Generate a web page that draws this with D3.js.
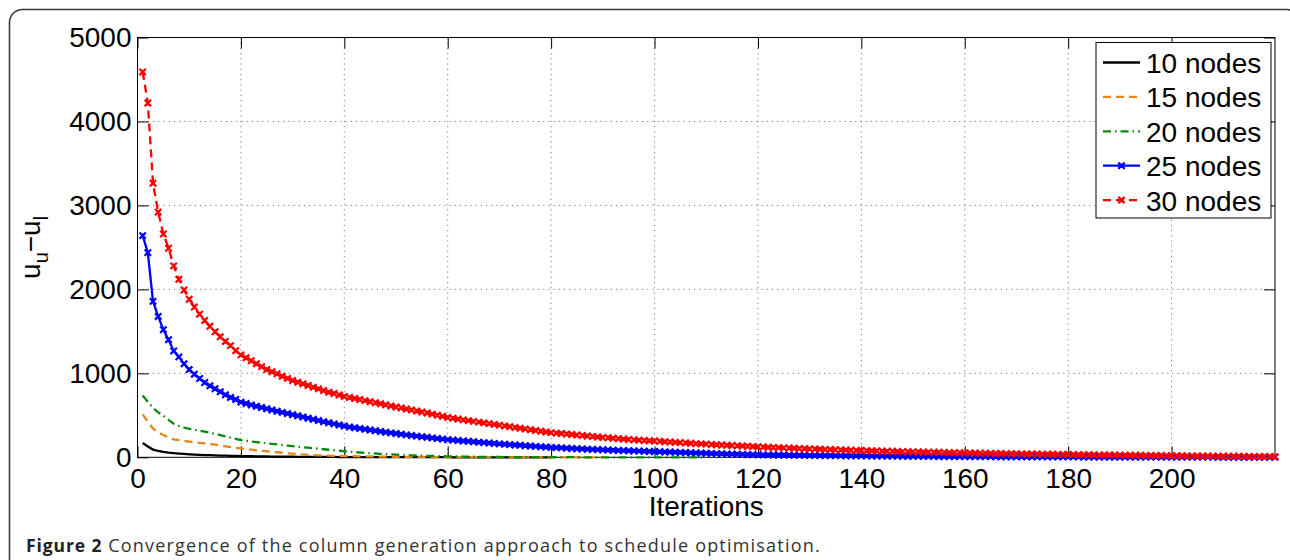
<!DOCTYPE html>
<html>
<head>
<meta charset="utf-8">
<script src="https://cdn.jsdelivr.net/npm/d3@7"></script>
<style>
  body { margin: 0; background: #fff; }
  svg { display: block; }
  .axis text { font-family: 'Liberation Sans', Arial, sans-serif; font-size: 28px; fill: #000; }
  .axis line { stroke: #000; stroke-width: 1; }
  .grid line { stroke: #7a7a7a; stroke-width: 1; stroke-dasharray: 1.2, 4; }
  .lbl { font-family: 'Liberation Sans', Arial, sans-serif; font-size: 28px; fill: #000; }
  .caption { font-family: 'Open Sans', 'Noto Sans', sans-serif; font-size: 18px; fill: #333; letter-spacing: 1.2px; }
  .caption .fig { font-size: 17.5px; font-weight: bold; fill: #222; letter-spacing: 0.9px; }
</style>
</head>
<body>
<svg id="chart" width="1290" height="560"></svg>
<script>
// values, one entry per iteration (iteration 1 first)
const legendLabels = ['10 nodes', '15 nodes', '20 nodes', '25 nodes', '30 nodes']
const xTicks = [0, 20, 40, 60, 80, 100, 120, 140, 160, 180, 200]
const yTicks = [0, 1000, 2000, 3000, 4000, 5000]

const nodes10 = [170, 128, 92, 76, 64, 56, 50, 45, 40, 36,
  32, 29, 27, 25, 23, 21, 19, 18, 16, 15,
  14, 13, 12, 11, 10, 9, 9, 8, 7, 7,
  6, 6, 5, 5, 5, 4, 4, 4, 3, 3,
  3, 3, 3, 2, 2, 2, 2, 2, 2, 1,
  1, 1, 1, 1, 1, 1, 1, 1, 1, 1,
  0, 0, 0, 0, 0, 0, 0, 0, 0, 0,
  0, 0, 0, 0, 0, 0, 0, 0, 0, 0]

const nodes15 = [512, 420, 345, 295, 266, 235, 214, 205, 195, 186,
  180, 172, 165, 157, 150, 140, 130, 121, 113, 106,
  98, 91, 84, 78, 72, 66, 60, 54, 48, 43,
  38, 34, 30, 27, 24, 22, 20, 18, 16, 15,
  14, 13, 12, 11, 10, 9, 8, 7, 7, 6,
  6, 5, 5, 4, 4, 4, 3, 3, 3, 2,
  2, 2, 2, 1, 1, 1, 1, 1, 1, 1,
  0, 0, 0, 0, 0, 0, 0, 0, 0, 0,
  0, 0, 0, 0, 0, 0, 0, 0, 0, 0]

const nodes20 = [735, 660, 590, 535, 495, 445, 400, 375, 355, 340,
  328, 317, 305, 292, 280, 265, 250, 235, 220, 205,
  197, 189, 181, 174, 167, 160, 153, 146, 139, 132,
  126, 120, 114, 108, 102, 96, 90, 84, 78, 72,
  67, 62, 57, 53, 49, 45, 41, 38, 35, 32,
  29, 26, 24, 22, 20, 18, 16, 14, 13, 12,
  11, 10, 9, 8, 7, 6, 5, 5, 4, 4,
  3, 3, 3, 2, 2, 2, 2, 1, 1, 1,
  1, 1, 1, 1, 1, 0, 0, 0, 0, 0,
  0, 0, 0, 0, 0, 0, 0, 0, 0, 0,
  0, 0, 0, 0, 0, 0, 0, 0, 0, 0]

const nodes25 = [2640, 2438, 1857, 1678, 1520, 1401, 1267, 1196, 1113, 1045,
  990, 938, 891, 851, 816, 780, 744, 713, 689, 657,
  640, 624, 608, 593, 578, 563, 549, 535, 521, 508,
  494, 480, 466, 452, 438, 424, 411, 398, 385, 372,
  361, 352, 343, 334, 325, 316, 307, 299, 291, 283,
  275, 267, 259, 252, 245, 238, 231, 224, 217, 210,
  205, 200, 195, 190, 185, 180, 175, 170, 165, 160,
  156, 151, 147, 143, 138, 134, 130, 126, 122, 118,
  115, 112, 109, 106, 103, 100, 97, 94, 92, 89,
  87, 84, 82, 80, 78, 76, 74, 72, 70, 68,
  66, 64, 62, 60, 58, 56, 54, 52, 50, 48,
  46, 44, 42, 40, 38, 37, 35, 33, 32, 30,
  29, 29, 28, 27, 27, 26, 25, 25, 24, 23,
  23, 22, 21, 21, 20, 20, 19, 18, 18, 17,
  17, 16, 16, 15, 15, 14, 14, 13, 13, 12,
  12, 12, 11, 11, 10, 10, 10, 9, 9, 9,
  9, 8, 8, 8, 8, 7, 7, 7, 7, 7,
  6, 6, 6, 6, 6, 6, 5, 5, 5, 5,
  5, 5, 4, 4, 4, 4, 4, 4, 3, 3,
  3, 3, 3, 3, 3, 3, 2, 2, 2, 2,
  2, 2, 2, 2, 2, 2, 2, 2, 1, 1,
  1, 1, 1, 1, 1, 1, 1, 1, 1, 1]

const nodes30 = [4590, 4220, 3265, 2920, 2660, 2490, 2280, 2120, 1993, 1882,
  1790, 1705, 1630, 1560, 1495, 1435, 1380, 1330, 1270, 1220,
  1185, 1150, 1115, 1080, 1045, 1020, 995, 965, 940, 915,
  895, 875, 855, 835, 815, 795, 775, 760, 742, 725,
  712, 700, 688, 675, 662, 650, 638, 625, 612, 600,
  588, 575, 563, 552, 540, 527, 514, 501, 488, 475,
  465, 455, 446, 437, 428, 419, 410, 401, 392, 383,
  374, 365, 356, 347, 338, 329, 320, 311, 302, 294,
  288, 283, 277, 271, 266, 260, 254, 248, 242, 237,
  232, 227, 222, 217, 212, 208, 204, 200, 197, 194,
  190, 186, 182, 178, 175, 171, 167, 163, 160, 157,
  153, 150, 147, 143, 140, 137, 134, 131, 128, 125,
  122, 120, 117, 115, 112, 110, 107, 105, 102, 100,
  98, 96, 94, 92, 90, 88, 86, 84, 82, 80,
  78, 77, 75, 74, 72, 71, 69, 68, 66, 65,
  64, 62, 61, 60, 59, 57, 56, 55, 54, 52,
  51, 50, 49, 48, 47, 46, 45, 44, 43, 42,
  41, 40, 39, 39, 38, 37, 36, 35, 35, 34,
  33, 32, 32, 31, 30, 29, 29, 28, 27, 26,
  26, 25, 24, 24, 23, 22, 21, 21, 20, 19,
  18, 18, 17, 17, 16, 15, 15, 14, 14, 13,
  13, 12, 12, 11, 11, 10, 10, 9, 9, 8]

const styles = [
  { color: '#000000', dash: null, marker: false },
  { color: '#e8861a', dash: '8,5', marker: false },
  { color: '#0a8a0a', dash: '8,4,1.5,4', marker: false },
  { color: '#0000ff', dash: null, marker: true },
  { color: '#ff0000', dash: '8,5', marker: true }
]

const margin = { top: 37.5, right: 15, bottom: 102.7, left: 137.5 }
const width = 1290 - margin.left - margin.right
const height = 560 - margin.top - margin.bottom

const svg = d3.select('#chart')

// outer figure frame (runs off the bottom of the picture)
svg.append('rect')
  .attr('x', 9.5).attr('y', 9.5)
  .attr('width', 1290).attr('height', 700)
  .attr('rx', 13)
  .attr('fill', 'none')
  .attr('stroke', '#3a3a3a')
  .attr('stroke-width', 1.6)

const x = d3.scaleLinear().domain([0, 220]).range([0, width])
const y = d3.scaleLinear().domain([0, 5000]).range([height, 0])

const g = svg.append('g').attr('transform', `translate(${margin.left},${margin.top})`)

// dotted grid
g.append('g').attr('class', 'grid')
  .selectAll('line').data(xTicks.filter(t => t > 0)).join('line')
  .attr('x1', d => x(d)).attr('x2', d => x(d))
  .attr('y1', 0).attr('y2', height)
g.append('g').attr('class', 'grid')
  .selectAll('line').data(yTicks.filter(t => t > 0 && t < 5000)).join('line')
  .attr('y1', d => y(d)).attr('y2', d => y(d))
  .attr('x1', 0).attr('x2', width)

// axes with inward ticks on all four sides
function drawAxis (axis, transform, labels) {
  const a = g.append('g').attr('class', 'axis').attr('transform', transform)
    .call(axis)
  a.select('.domain').remove()
  if (!labels) a.selectAll('text').remove()
  return a
}
const fmt = d3.format('d')
drawAxis(d3.axisBottom(x).tickValues(xTicks).tickFormat(fmt).tickSize(-11).tickPadding(11), `translate(0,${height})`, true)
drawAxis(d3.axisTop(x).tickValues(xTicks).tickSize(-11), 'translate(0,0)', false)
drawAxis(d3.axisLeft(y).tickValues(yTicks).tickFormat(fmt).tickSize(-11).tickPadding(6), 'translate(0,0)', true)
drawAxis(d3.axisRight(y).tickValues(yTicks).tickSize(-11), `translate(${width},0)`, false)

g.append('rect')
  .attr('width', width).attr('height', height)
  .attr('fill', 'none').attr('stroke', '#000').attr('stroke-width', 1)

// series
const allSeries = [nodes10, nodes15, nodes20, nodes25, nodes30]
const line = d3.line()
  .x((d, i) => x(i + 1))
  .y(d => y(d))
const cross = 'M-3.2,-3.2L3.2,3.2M-3.2,3.2L3.2,-3.2M0,-2.2L0,2.2'

allSeries.forEach((values, k) => {
  const s = styles[k]
  g.append('path')
    .datum(values)
    .attr('d', line)
    .attr('fill', 'none')
    .attr('stroke', s.color)
    .attr('stroke-width', 2.3)
    .attr('stroke-dasharray', s.dash)
  if (s.marker) {
    g.append('g').selectAll('path').data(values).join('path')
      .attr('transform', (d, i) => `translate(${x(i + 1)},${y(d)})`)
      .attr('d', cross)
      .attr('stroke', s.color)
      .attr('stroke-width', 2.2)
      .attr('fill', 'none')
  }
})

// axis titles
g.append('text').attr('class', 'lbl')
  .attr('x', width / 2).attr('y', height + 58.5)
  .attr('text-anchor', 'middle')
  .text('Iterations')

const yl = svg.append('text').attr('class', 'lbl')
  .attr('transform', `translate(40,${margin.top + height / 2}) rotate(-90)`)
  .attr('text-anchor', 'middle')
yl.append('tspan').text('u')
yl.append('tspan').attr('dy', 8).style('font-size', '20px').text('u')
yl.append('tspan').attr('dy', -8).text('\u2212u')
yl.append('tspan').attr('dy', 8).style('font-size', '20px').text('l')

// legend
const lg = svg.append('g').attr('transform', 'translate(1096,42.5)')
lg.append('rect')
  .attr('width', 175).attr('height', 175.5)
  .attr('fill', '#fff').attr('stroke', '#000').attr('stroke-width', 1)
legendLabels.forEach((label, k) => {
  const s = styles[k]
  const cy = 20 + k * 34.4
  lg.append('line')
    .attr('x1', 7).attr('x2', 44).attr('y1', cy).attr('y2', cy)
    .attr('stroke', s.color).attr('stroke-width', 2.3)
    .attr('stroke-dasharray', s.dash)
  if (s.marker) {
    lg.append('path')
      .attr('transform', `translate(25.5,${cy})`)
      .attr('d', cross)
      .attr('stroke', s.color).attr('stroke-width', 2.2)
  }
  lg.append('text').attr('class', 'lbl')
    .attr('x', 50).attr('y', cy + 10.5)
    .text(label)
})

// caption
const cap = svg.append('text').attr('class', 'caption')
  .attr('x', 26).attr('y', 552)
cap.append('tspan').attr('class', 'fig').text('Figure 2')
cap.append('tspan').text(' Convergence of the column generation approach to schedule optimisation.')
</script>
</body>
</html>
